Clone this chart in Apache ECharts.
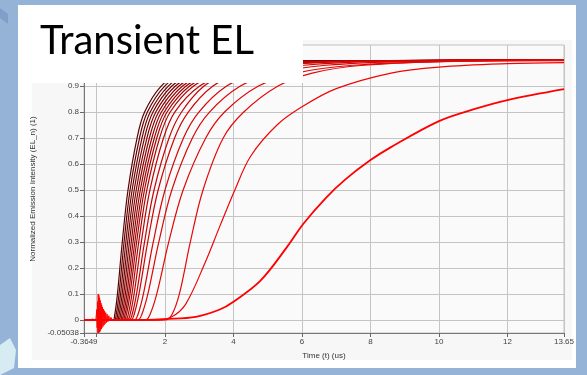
<!DOCTYPE html>
<html><head><meta charset="utf-8">
<script src="https://cdn.jsdelivr.net/npm/echarts@6/dist/echarts.min.js"></script>
<style>html,body{margin:0;padding:0;background:#95b3d7;}#c{width:587px;height:375px;}</style>
</head><body><div id="c"></div>
<script>
// ---- axis ticks / labels ----
const xMin = -0.3649, xMax = 13.65;
const yMin = -0.05038, yMax = 1.058;
const xTickValues = [-0.3649, 0, 2, 4, 6, 8, 10, 12, 13.65];
const xLabelValues = [-0.3649, 2, 4, 6, 8, 10, 12, 13.65];
const yTickValues = [-0.05038, 0, 0.1, 0.2, 0.3, 0.4, 0.5, 0.6, 0.7, 0.8, 0.9, 1];
const yLabelValues = [-0.05038, 0, 0.1, 0.2, 0.3, 0.4, 0.5, 0.6, 0.7, 0.8, 0.9, 1];

// ---- curves: [time (us), normalized EL] ----
const curve01 = [[-0.3649,0],[0.48,0],[0.533,0.02],[0.612,0.1],[0.753,0.3],[0.92,0.5],[1.184,0.7],[1.404,0.8],[1.888,0.9],[2.46,0.95],[3.34,0.98],[4.88,0.995],[13.65,1]];
const curve02 = [[-0.3649,0],[0.52,0],[0.575,0.02],[0.658,0.1],[0.805,0.3],[0.98,0.5],[1.256,0.7],[1.486,0.8],[1.992,0.9],[2.59,0.95],[3.51,0.98],[5.12,0.995],[13.65,1]];
const curve03 = [[-0.3649,0],[0.56,0],[0.618,0.02],[0.704,0.1],[0.858,0.3],[1.04,0.5],[1.328,0.7],[1.568,0.8],[2.096,0.9],[2.72,0.95],[3.68,0.98],[5.36,0.995],[13.65,1]];
const curve04 = [[-0.3649,0],[0.60,0],[0.66,0.02],[0.75,0.1],[0.91,0.3],[1.10,0.5],[1.40,0.7],[1.65,0.8],[2.20,0.9],[2.85,0.95],[3.85,0.98],[5.60,0.995],[13.65,1]];
const curve05 = [[-0.3649,0],[0.64,0],[0.702,0.02],[0.796,0.1],[0.962,0.3],[1.16,0.5],[1.472,0.7],[1.732,0.8],[2.304,0.9],[2.98,0.95],[4.02,0.98],[5.84,0.995],[13.65,1]];
const curve06 = [[-0.3649,0],[0.68,0],[0.745,0.02],[0.842,0.1],[1.015,0.3],[1.22,0.5],[1.544,0.7],[1.814,0.8],[2.408,0.9],[3.11,0.95],[4.19,0.98],[6.08,0.995],[13.65,1]];
const curve07 = [[-0.3649,0],[0.72,0],[0.787,0.02],[0.888,0.1],[1.067,0.3],[1.28,0.5],[1.616,0.7],[1.896,0.8],[2.512,0.9],[3.24,0.95],[4.36,0.98],[6.32,0.995],[13.65,1]];
const curve08 = [[-0.3649,0],[0.76,0],[0.83,0.02],[0.934,0.1],[1.12,0.3],[1.34,0.5],[1.688,0.7],[1.978,0.8],[2.616,0.9],[3.37,0.95],[4.53,0.98],[6.56,0.995],[13.65,1]];
const curve09 = [[-0.3649,0],[0.80,0],[0.872,0.02],[0.98,0.1],[1.172,0.3],[1.40,0.5],[1.76,0.7],[2.06,0.8],[2.72,0.9],[3.50,0.95],[4.70,0.98],[6.80,0.995],[13.65,1]];
const curve10 = [[-0.3649,0],[0.85,0],[0.924,0.02],[1.036,0.1],[1.234,0.3],[1.47,0.5],[1.842,0.7],[2.152,0.8],[2.834,0.9],[3.64,0.95],[4.88,0.98],[7.05,0.995],[13.65,1]];
const curve11 = [[-0.3649,0],[0.90,0],[0.979,0.02],[1.098,0.1],[1.309,0.3],[1.56,0.5],[1.956,0.7],[2.286,0.8],[3.012,0.9],[3.87,0.95],[5.19,0.98],[7.5,0.995],[13.65,1]];
const curve12 = [[-0.3649,0],[0.95,0],[1.038,0.02],[1.169,0.1],[1.403,0.3],[1.68,0.5],[2.118,0.7],[2.483,0.8],[3.14,0.9],[3.87,0.95],[4.97,0.98],[6.79,0.995],[13.65,1]];
const curve13 = [[-0.3649,0],[1.00,0],[1.096,0.02],[1.24,0.1],[1.496,0.3],[1.80,0.5],[2.28,0.7],[2.68,0.8],[3.40,0.9],[4.2,0.95],[5.4,0.98],[7.4,0.995],[13.65,1]];
const curve14 = [[-0.3649,0],[1.10,0],[1.208,0.02],[1.37,0.1],[1.658,0.3],[2.0,0.5],[2.54,0.7],[2.99,0.8],[3.8,0.9],[4.7,0.95],[6.05,0.98],[8.3,0.995],[13.65,1]];
const curve15 = [[-0.3649,0],[1.20,0],[1.32,0.02],[1.5,0.1],[1.82,0.3],[2.2,0.5],[2.8,0.7],[3.3,0.8],[4.2,0.9],[5.2,0.95],[6.7,0.98],[9.2,0.995],[13.65,1]];
const curve16 = [[-0.3649,0],[1.43,0],[1.56,0.02],[1.76,0.1],[2.11,0.3],[2.53,0.5],[3.19,0.7],[3.74,0.8],[4.73,0.9],[5.83,0.95],[7.48,0.98],[10.2,0.995],[13.65,1]];
const curve17 = [[-0.3649,0],[2.0,0],[2.2,0.02],[2.42,0.1],[2.74,0.3],[3.11,0.5],[3.7,0.7],[4.3,0.8],[5.3,0.9],[6.3,0.95],[7.8,0.98],[10.5,0.995],[13.65,0.998]];
const curve18 = [[-0.3649,0],[1.8,0],[2.2,0.012],[2.6,0.06],[3.17,0.22],[3.6,0.36],[4.04,0.5],[4.5,0.63],[5.27,0.75],[6.0,0.82],[7.0,0.89],[8.6,0.95],[10,0.973],[12,0.986],[13.65,0.99]];
const curve19 = [[-0.3649,0],[1.5,0],[2.0,0.003],[2.9,0.012],[3.6,0.04],[4.0,0.07],[4.78,0.15],[5.56,0.28],[6.04,0.37],[6.7,0.47],[7.26,0.54],[8.0,0.615],[8.6,0.665],[10,0.765],[11,0.81],[12,0.846],[13.65,0.888]];
const spike = [[-0.3649,0.003],[-0.25,-0.002],[-0.12,0.003],[-0.02,0.0],[0.01,0.04],[0.02,-0.03],[0.03,0.07],[0.04,-0.05],[0.05,0.1],[0.06,-0.05],[0.07,0.095],[0.08,-0.048],[0.09,0.085],[0.1,-0.045],[0.11,0.075],[0.12,-0.04],[0.13,0.065],[0.14,-0.035],[0.15,0.058],[0.16,-0.03],[0.175,0.05],[0.19,-0.025],[0.205,0.042],[0.22,-0.02],[0.235,0.035],[0.25,-0.015],[0.27,0.028],[0.29,-0.01],[0.31,0.022],[0.33,-0.007],[0.36,0.016],[0.39,-0.004],[0.42,0.01],[0.46,-0.002],[0.5,0.005],[0.6,0.0]];

const curves = [curve01,curve02,curve03,curve04,curve05,curve06,curve07,curve08,curve09,curve10,curve11,curve12,curve13,curve14,curve15,curve16,curve17,curve18,curve19];
const curveColors = ['#5a0000','#640000','#6e0202','#780202','#820303','#8c0303','#960404','#a00404','#aa0505','#b40505','#be0606','#c60606','#cc0606','#d30707','#d90707','#df0808','#e60808','#ee0606','#ff0000'];

const chart = echarts.init(document.getElementById('c'), null, {renderer: 'canvas'});
const series = curves.map((d, i) => ({
  type: 'line', data: d, showSymbol: false, smooth: 0.35,
  lineStyle: {width: i === curves.length - 1 ? 1.8 : 1.2, color: curveColors[i]},
  itemStyle: {color: curveColors[i]}, z: 2 + i * 0.01, animation: false, silent: true
}));
series.push({type: 'line', data: spike, showSymbol: false, lineStyle: {width: 1, color: '#ff0000'}, z: 3, animation: false, silent: true});

chart.setOption({
  backgroundColor: '#95b3d7',
  animation: false,
  graphic: [
    {type: 'polygon', shape: {points: [[0, 8], [8, 14], [8, 24], [0, 18]]}, style: {fill: '#7f9fc8'}, z: -11, silent: true},
    {type: 'polygon', shape: {points: [[0, 345], [10, 338], [16, 350], [14, 368], [0, 375]]}, style: {fill: '#d6ecf2'}, z: -11, silent: true},
    {type: 'rect', shape: {x: 18, y: 5, width: 558, height: 363}, style: {fill: '#ffffff'}, z: -10, silent: true},
    {type: 'rect', shape: {x: 32, y: 40, width: 540, height: 320}, style: {fill: '#f7f7f7'}, z: -9, silent: true},
    {type: 'rect', shape: {x: 18, y: 5, width: 285, height: 78}, style: {fill: '#ffffff'}, z: 100, silent: true},
    {type: 'text', left: 40, top: 21, style: {text: 'Transient EL', font: '40px Lato', fill: '#000000'}, z: 101, silent: true}
  ],
  grid: {left: 84, right: 23, top: 45, bottom: 42, show: true, backgroundColor: '#fafafa', borderColor: '#c0c0c0', borderWidth: 1},
  xAxis: {
    type: 'value', min: xMin, max: xMax,
    name: 'Time (t) (us)', nameLocation: 'middle', nameGap: 19,
    nameTextStyle: {fontFamily: 'Liberation Sans', fontSize: 8, color: '#333'},
    axisLine: {show: true, onZero: false, lineStyle: {color: '#777', width: 1}},
    axisTick: {show: true, length: 4, customValues: xTickValues, lineStyle: {color: '#666'}},
    axisLabel: {customValues: xLabelValues, fontFamily: 'Liberation Sans', fontSize: 8, color: '#444', margin: 5},
    splitLine: {show: true, lineStyle: {color: '#c4c4c4', width: 1}}
  },
  yAxis: {
    type: 'value', min: yMin, max: yMax,
    name: 'Normalized Emission Intensity (EL_n) (1)', nameLocation: 'middle', nameGap: 34,
    nameTextStyle: {fontFamily: 'Liberation Sans', fontSize: 8, color: '#333'},
    axisLine: {show: true, onZero: false, lineStyle: {color: '#777', width: 1}},
    axisTick: {show: true, length: 4, customValues: yTickValues, lineStyle: {color: '#666'}},
    axisLabel: {customValues: yLabelValues, fontFamily: 'Liberation Sans', fontSize: 8, color: '#444', margin: 5},
    splitLine: {show: true, lineStyle: {color: '#c4c4c4', width: 1}}
  },
  series: series
});
</script></body></html>
